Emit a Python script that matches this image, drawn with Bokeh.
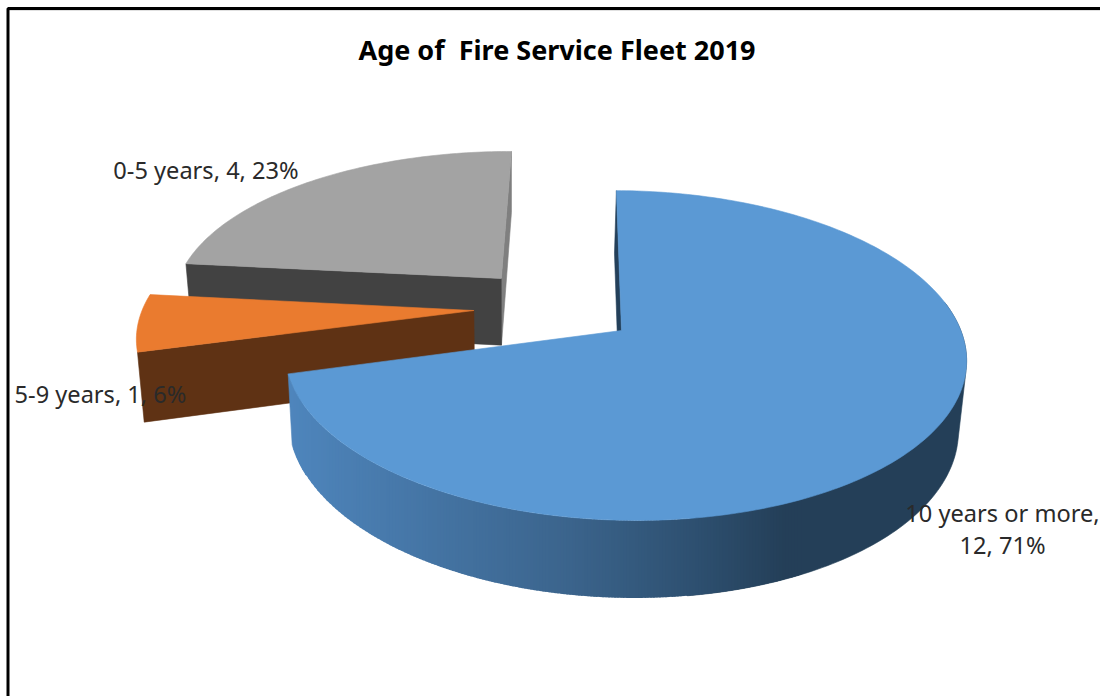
import math
import numpy as np
from bokeh.core.properties import value
from bokeh.embed import file_html
from bokeh.models import Range1d
from bokeh.plotting import figure
from bokeh.resources import INLINE

TITLE = "Age of \u00a0Fire Service Fleet 2019"
categories = ["10 years or more", "5-9 years", "0-5 years"]
counts = [12, 1, 4]
percents = [71, 6, 23]

# Projection of the tilted pie onto the page
APEX_X, APEX_Y = 621.0, 330.0
FIRST_ANGLE = -1.0
SCALE_X, SCALE_Y, SHEAR_Y = 337.0, 161.0, 5.0
PERSP_U, PERSP_W = 0.012, 0.1515
BASE_X, BASE_SX, BASE_Y, BASE_SY = 619.0, 0.982, 399.0, 1.045

# Each slice's apex offset in the pie's own plane, and its sideways stretch
offsets = {"10 years or more": (0.0, 0.0), "5-9 years": (-0.448, -0.113), "0-5 years": (-0.376, -0.329)}
stretch = {"10 years or more": 1.0, "5-9 years": 1.018, "0-5 years": 1.02}

TOP_COLORS = {"10 years or more": "#5b99d4", "5-9 years": "#ea7b2f", "0-5 years": "#a3a3a3"}
WALL_COLORS = {"10 years or more": "#24405a", "5-9 years": "#5f3214", "0-5 years": "#424242"}
SIDE_STOPS = [(290, (78, 133, 188)), (570, (59, 100, 140)), (700, (45, 79, 111)), (785, (36, 63, 88)), (1000, (36, 63, 88))]
TEXT_COLOR = "#2a2a2a"
FONT = "Noto Sans"


def project(u, w):
    d = 1 - PERSP_U * u - PERSP_W * w
    return SCALE_X * u / d, (SCALE_Y * w + SHEAR_Y * u) / d


def plane_point(cat, deg):
    u, w = offsets[cat]
    if deg is not None:
        u += stretch[cat] * math.sin(math.radians(deg))
        w -= math.cos(math.radians(deg))
    return project(u, w)


def top_point(cat, deg=None):
    px, py = plane_point(cat, deg)
    return APEX_X + px, APEX_Y + py


def base_point(cat, deg=None):
    px, py = plane_point(cat, deg)
    return BASE_X + BASE_SX * px, BASE_Y + BASE_SY * py


def side_color(x):
    for (x0, c0), (x1, c1) in zip(SIDE_STOPS, SIDE_STOPS[1:]):
        if x <= x1:
            t = max(0.0, (x - x0) / (x1 - x0))
            return "#%02x%02x%02x" % tuple(round(a + (b - a) * t) for a, b in zip(c0, c1))
    return "#%02x%02x%02x" % SIDE_STOPS[-1][1]


def convex_hull(points):
    pts = sorted(set(points))

    def half(seq):
        chain = []
        for q in seq:
            while len(chain) > 1 and ((chain[-1][0] - chain[-2][0]) * (q[1] - chain[-2][1])
                                      - (chain[-1][1] - chain[-2][1]) * (q[0] - chain[-2][0])) <= 0:
                chain.pop()
            chain.append(q)
        return chain[:-1]

    return half(pts) + half(pts[::-1])


p = figure(width=1100, height=696, x_range=Range1d(0, 1100), y_range=Range1d(696, 0),
           output_backend="svg", toolbar_location=None, min_border=0)
p.axis.visible = False
p.grid.visible = False
p.outline_line_color = None
p.background_fill_color = "white"


def fill(points, color, stroke=0.6):
    xs, ys = zip(*points)
    p.patch(list(xs), list(ys), fill_color=color, line_color=color if stroke else None, line_width=stroke or 1)


# Chart border
p.line([1100, 7.5, 7.5], [9.8, 9.8, 696], line_color="#d9d9d9", line_width=1)
p.line([1100, 7.5, 7.5], [8, 8, 696], line_color="black", line_width=3)

# Slice angles, clockwise from the back of the pie
total = sum(counts)
spans = {}
start = FIRST_ANGLE
for cat, cnt in zip(categories, counts):
    spans[cat] = (start, start + 360.0 * cnt / total)
    start = spans[cat][1]


def arc_degrees(a, b, step=1.0):
    n = max(2, int(abs(b - a) / step))
    return [a + (b - a) * i / n for i in range(n + 1)]


def top_face(cat):
    a, b = spans[cat]
    return [top_point(cat)] + [top_point(cat, d) for d in arc_degrees(a, b)]


# Grey slice, farthest from the viewer
cat = "0-5 years"
a, b = spans[cat]
fill([top_point(cat, b), top_point(cat), base_point(cat), base_point(cat, b)], "#7f7f7f")
fill([top_point(cat), top_point(cat, a), base_point(cat, a), base_point(cat)], WALL_COLORS[cat])
fill(top_face(cat), TOP_COLORS[cat])

# Orange slice
cat = "5-9 years"
a, b = spans[cat]
fill([top_point(cat), top_point(cat, a), base_point(cat, a), base_point(cat)], WALL_COLORS[cat])
fill(top_face(cat), TOP_COLORS[cat])

# Blue slice: inner wall, dark right-hand rim, shaded front rim, then the face
cat = "10 years or more"
a, b = spans[cat]
fill([top_point(cat), top_point(cat, a), base_point(cat, a), base_point(cat)], WALL_COLORS[cat])
dark_arc = arc_degrees(78, 170, 1.0)
fill(convex_hull([top_point(cat, d) for d in dark_arc] + [base_point(cat, d) for d in dark_arc]),
     side_color(900))

# The left end of the rim keeps the lightest shade
left_arc = arc_degrees(b - 10, b, 1.0)
fill([top_point(cat, d) for d in left_arc] + [base_point(cat, d) for d in reversed(left_arc)], side_color(290))

# The rim shading runs left to right, so it is laid over the rim in upright bands;
# each band overlaps the next by a pixel to leave no seam between them
front = arc_degrees(b, 110, 0.5)
top_xy = np.array([top_point(cat, d) for d in front])
base_xy = np.array([base_point(cat, d) for d in front])
band_left = math.ceil(base_xy[0, 0]) + 1
for x0 in range(band_left, 800, 3):
    x1 = x0 + 4
    edge_x = np.array([x0, x1], dtype=float)
    upper = np.interp(edge_x, top_xy[:, 0], top_xy[:, 1])
    lower = np.interp(edge_x, base_xy[:, 0], base_xy[:, 1])
    fill([(x0, upper[0]), (x1, upper[1]), (x1, lower[1]), (x0, lower[0])], side_color(x0 + 2), 0)
fill(top_face(cat), TOP_COLORS[cat])

# Title and data labels
label_text = {c: f"{c}, {n}, {q}%" for c, n, q in zip(categories, counts, percents)}
p.text([556.5], [49], text=[TITLE], text_font=value(FONT), text_font_style="bold", text_font_size="27px",
       text_color="black", text_align="center", text_baseline="middle")
p.text([205.5], [169], text=[label_text["0-5 years"]], text_font=value(FONT), text_font_size="23.6px",
       text_color=TEXT_COLOR, text_align="center", text_baseline="middle")
p.text([100], [393], text=[label_text["5-9 years"]], text_font=value(FONT), text_font_size="23.6px",
       text_color=TEXT_COLOR, text_align="center", text_baseline="middle")
long_label = label_text["10 years or more"]
split = long_label.index(", ") + 1
p.text([1002, 1002], [512, 544], text=[long_label[:split], long_label[split + 1:]], text_font=value(FONT),
       text_font_size="23.6px", text_color=TEXT_COLOR, text_align="center", text_baseline="middle")

open("out.html", "w").write(file_html(p, INLINE))
